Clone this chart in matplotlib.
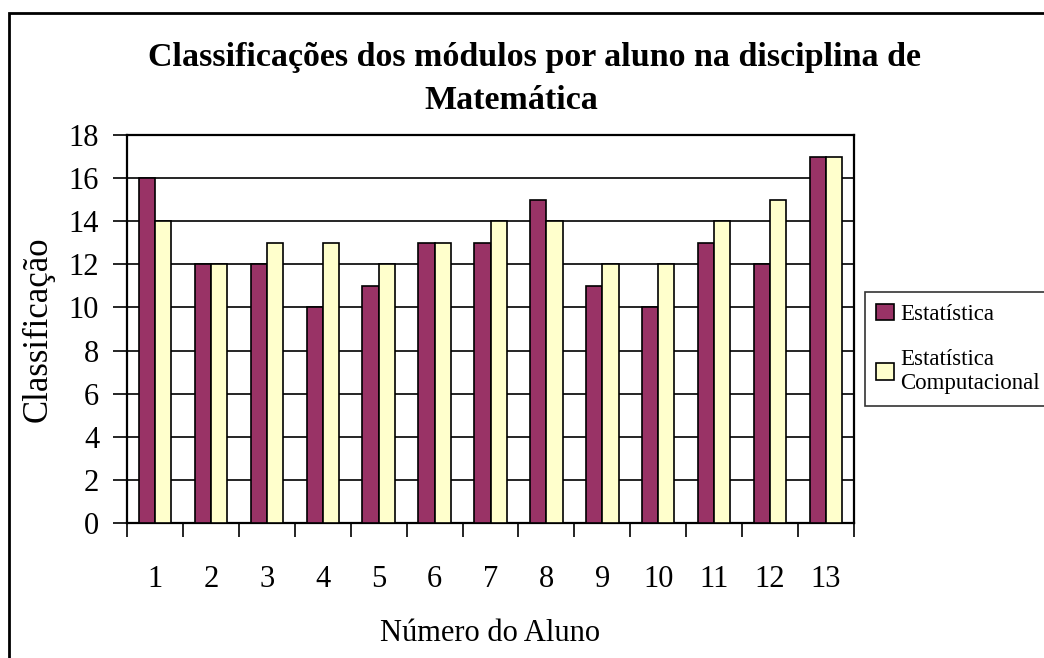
import matplotlib
matplotlib.use('Agg')
import matplotlib.pyplot as plt
import numpy as np
from matplotlib.patches import Rectangle

plt.rcParams['font.family'] = ['Liberation Serif', 'DejaVu Serif']

alunos = ['1', '2', '3', '4', '5', '6', '7', '8', '9', '10', '11', '12', '13']
estatistica = [16, 12, 12, 10, 11, 13, 13, 15, 11, 10, 13, 12, 17]
computacional = [14, 12, 13, 13, 12, 13, 14, 14, 12, 12, 14, 15, 17]
yticks = [0, 2, 4, 6, 8, 10, 12, 14, 16, 18]

fig = plt.figure(figsize=(10.44, 6.58), dpi=100)
ax = fig.add_axes([127/1044, 1-523/658, (854-127)/1044, (523-135)/658])

x = np.arange(len(alunos))
w = 0.29
ax.bar(x - w/2, estatistica, w, color='#993366', edgecolor='black', linewidth=1.2,
       label='Estatística', zorder=3)
ax.bar(x + w/2, computacional, w, color='#FFFFCC', edgecolor='black', linewidth=1.2,
       label='Estatística\nComputacional', zorder=3)

ax.set_xlim(-0.5, len(alunos) - 0.5)
ax.set_ylim(0, 18)
ax.set_yticks(yticks)
ax.yaxis.grid(True, color='black', linewidth=1.2, zorder=0)
ax.tick_params(axis='y', direction='out', length=10, width=1.2, labelsize=22, pad=10)

# ticks at category boundaries, labels at centres
ax.set_xticks(np.arange(-0.5, len(alunos), 1))
ax.set_xticklabels([])
ax.tick_params(axis='x', which='major', direction='out', length=10, width=1.2)
ax.set_xticks(x, minor=True)
ax.set_xticklabels(alunos, minor=True)
ax.tick_params(axis='x', which='minor', length=0, labelsize=22, pad=30)

for s in ax.spines.values():
    s.set_linewidth(1.6)

ax.set_xlabel('Número do Aluno', fontsize=22, labelpad=18)
ax.set_ylabel('Classificação', fontsize=25, labelpad=10)

fig.text(0.512, 0.913, 'Classificações dos módulos por aluno na disciplina de',
         ha='center', va='center', fontsize=24.5, fontweight='bold')
fig.text(0.49, 0.848, 'Matemática', ha='center', va='center', fontsize=24.5, fontweight='bold')

leg = ax.legend(loc='center left', bbox_to_anchor=(865/1044, 1-349/658),
                bbox_transform=fig.transFigure, fontsize=16.5, frameon=True, fancybox=False,
                handlelength=0.75, handleheight=0.75, handletextpad=0.3, labelspacing=1.05,
                borderpad=0.5, borderaxespad=0)
leg.get_frame().set_edgecolor('black')
leg.get_frame().set_linewidth(1.2)

fig.patches.append(Rectangle((9/1044, -0.1), 1.2, 1 - 13/658 + 0.1,
                             transform=fig.transFigure, fill=False,
                             edgecolor='black', linewidth=2, clip_on=False))

fig.savefig('out.png', dpi=100)
